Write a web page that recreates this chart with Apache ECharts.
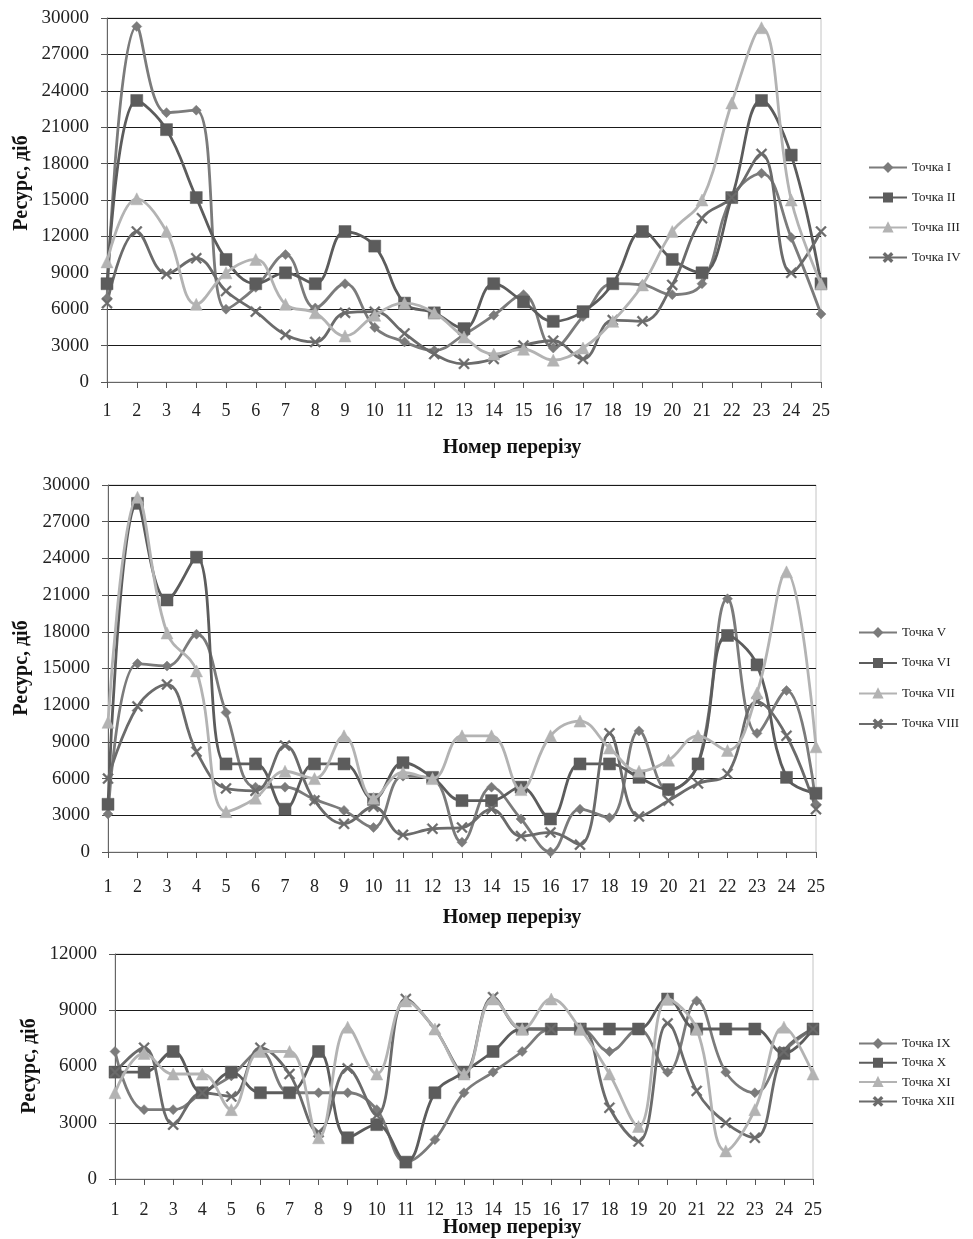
<!DOCTYPE html>
<html><head><meta charset="utf-8">
<script src="https://cdn.jsdelivr.net/npm/echarts@6/dist/echarts.min.js"></script>
<style>html,body{margin:0;padding:0;background:#fff}#c{width:973px;height:1239px}</style>
</head><body><div id="c"></div>
<script>
const categories = ['1','2','3','4','5','6','7','8','9','10','11','12','13','14','15','16','17','18','19','20','21','22','23','24','25'];

// Chart 1
const p1 = [6900, 29300, 22200, 22400, 6000, 7800, 10500, 6100, 8100, 4500, 3300, 2600, 3900, 5500, 7200, 2800, 5400, 8100, 8000, 7200, 8100, 15200, 17200, 11900, 5600];
const p2 = [8100, 23200, 20800, 15200, 10100, 8100, 9000, 8100, 12400, 11200, 6500, 5700, 4400, 8100, 6600, 5000, 5800, 8100, 12400, 10100, 9000, 15200, 23200, 18700, 8100];
const p3 = [9900, 15100, 12400, 6400, 9000, 10100, 6400, 5700, 3800, 5500, 6500, 5700, 3700, 2300, 2700, 1800, 2800, 5000, 8000, 12400, 15000, 23000, 29200, 15000, 8100];
const p4 = [6500, 12400, 8900, 10200, 7500, 5800, 3900, 3300, 5700, 5800, 4000, 2300, 1500, 1900, 3000, 3400, 1900, 5100, 5000, 8000, 13500, 15200, 18800, 9000, 12400];

// Chart 2
const p5 = [3100, 15400, 15200, 17800, 11400, 5300, 5300, 4300, 3400, 2000, 6200, 6000, 800, 5300, 2700, 0, 3500, 2800, 9900, 5000, 7200, 20700, 9700, 13200, 3900];
const p6 = [3900, 28500, 20600, 24100, 7200, 7200, 3500, 7200, 7200, 4300, 7300, 6100, 4200, 4200, 5300, 2700, 7200, 7200, 6100, 5100, 7200, 17700, 15300, 6100, 4800];
const p7 = [10600, 29000, 17900, 14800, 3300, 4400, 6600, 6000, 9500, 4400, 6500, 6000, 9500, 9500, 5100, 9500, 10700, 8500, 6600, 7500, 9500, 8300, 13000, 22900, 8600];
const p8 = [6000, 11900, 13700, 8200, 5200, 5000, 8700, 4200, 2300, 3700, 1400, 1900, 2000, 3500, 1300, 1600, 600, 9700, 2900, 4200, 5600, 6400, 12300, 9500, 3500];

// Chart 3
const p9  = [6800, 3700, 3700, 4600, 5500, 6800, 4600, 4600, 4600, 3700, 900, 2100, 4600, 5700, 6800, 8000, 8000, 6800, 8000, 5700, 9500, 5700, 4600, 6800, 8000];
const p10 = [5700, 5700, 6800, 4600, 5700, 4600, 4600, 6800, 2200, 2900, 900, 4600, 5700, 6800, 8000, 8000, 8000, 8000, 8000, 9600, 8000, 8000, 8000, 6700, 8000];
const p11 = [4600, 6700, 5600, 5600, 3700, 6800, 6800, 2200, 8100, 5600, 9500, 8000, 5600, 9600, 8000, 9600, 8000, 5600, 2800, 9600, 8000, 1500, 3700, 8100, 5600];
const p12 = [5700, 7000, 2900, 4600, 4400, 7000, 5600, 2500, 5900, 3400, 9600, 8000, 5700, 9700, 8000, 8000, 8000, 3800, 2000, 8300, 4700, 3000, 2200, 6800, 8000];

const names1 = ['Точка I','Точка II','Точка III','Точка IV'];
const names2 = ['Точка V','Точка VI','Точка VII','Точка VIII'];
const names3 = ['Точка IX','Точка X','Точка XI','Точка XII'];
const yTicks1 = [0, 30000, 3000];
const yTicks3 = [0, 12000, 3000];
const xTitle = 'Номер перерізу';
const yTitle = 'Ресурс, діб';

const CROSS = 'path://M0,1.2 L1.2,0 L5,3.8 L8.8,0 L10,1.2 L6.2,5 L10,8.8 L8.8,10 L5,6.2 L1.2,10 L0,8.8 L3.8,5 Z';
const styles = [
  {color:'#7b7b7b', symbol:'diamond', size:10},
  {color:'#5c5c5c', symbol:'rect', size:12},
  {color:'#b3b3b3', symbol:'triangle', size:12},
  {color:'#6b6b6b', symbol:CROSS, size:11}
];
const FONT = '"Liberation Serif", "DejaVu Serif", serif';

const grids = [
  {left:107, top:18, width:714, height:364},
  {left:108, top:485, width:708, height:367},
  {left:115, top:954, width:698, height:225}
];

function xAxis(i, labelMargin){
  return {
    type:'category', gridIndex:i, data:categories, boundaryGap:false,
    axisLine:{show:true, lineStyle:{color:'#666', width:1}},
    axisTick:{show:true, length:6, lineStyle:{color:'#555'}},
    axisLabel:{color:'#222', fontFamily:FONT, fontSize:18, margin:labelMargin, interval:0}
  };
}
function yAxis(i, t){
  return {
    type:'value', gridIndex:i, min:t[0], max:t[1], interval:t[2],
    axisLine:{show:true, lineStyle:{color:'#666', width:1}},
    axisTick:{show:true, length:6, inside:false, lineStyle:{color:'#555'}},
    axisLabel:{color:'#222', fontFamily:FONT, fontSize:19, margin:18, formatter:v => String(v)},
    splitLine:{show:true, lineStyle:{color:'#1a1a1a', width:1}}
  };
}

const seriesData = [[p1,p2,p3,p4],[p5,p6,p7,p8],[p9,p10,p11,p12]];
const allNames = [names1, names2, names3];
const series = [];
seriesData.forEach((grp, gi) => {
  grp.forEach((d, si) => {
    const s = styles[si];
    series.push({
      type:'line', name:allNames[gi][si], data:d, xAxisIndex:gi, yAxisIndex:gi,
      smooth:0.4, symbol:s.symbol, symbolSize:s.size, showSymbol:true,
      lineStyle:{color:s.color, width:2.8},
      itemStyle:{color:s.color, borderColor:s.color, borderWidth:0.5},
      emphasis:{disabled:true}, animation:false, z: si===2 ? 3 : 2
    });
  });
});

function legend(names, left, top, gap){
  return {
    data:names, orient:'vertical', left:left, top:top, itemGap:gap, padding:0,
    itemWidth:38, itemHeight:10,
    textStyle:{color:'#222', fontFamily:FONT, fontSize:13}, selectedMode:false
  };
}

const titleStyle = {fill:'#111', font:'bold 20px "Liberation Serif", serif', textAlign:'center', textVerticalAlign:'middle'};

const chart = echarts.init(document.getElementById('c'), null, {renderer:'canvas'});
chart.setOption({
  backgroundColor:'#fff',
  animation:false,
  grid: grids.map(g => Object.assign({show:true, borderColor:'#c4c4c4', borderWidth:1, backgroundColor:'transparent'}, g)),
  xAxis:[xAxis(0, 20), xAxis(1, 26), xAxis(2, 22)],
  yAxis:[yAxis(0, yTicks1), yAxis(1, yTicks1), yAxis(2, yTicks3)],
  legend:[legend(names1, 868, 161, 17), legend(names2, 858, 626, 17.5), legend(names3, 858, 1037, 6.3)],
  graphic:[
    {type:'text', x:512, y:448, style:Object.assign({text:xTitle}, titleStyle)},
    {type:'text', x:512, y:918, style:Object.assign({text:xTitle}, titleStyle)},
    {type:'text', x:512, y:1228, style:Object.assign({text:xTitle}, titleStyle)},
    {type:'text', x:22, y:183, rotation:Math.PI/2, style:Object.assign({text:yTitle}, titleStyle)},
    {type:'text', x:22, y:668, rotation:Math.PI/2, style:Object.assign({text:yTitle}, titleStyle)},
    {type:'text', x:30, y:1066, rotation:Math.PI/2, style:Object.assign({text:yTitle}, titleStyle)}
  ],
  series:series
});
</script>
</body></html>
